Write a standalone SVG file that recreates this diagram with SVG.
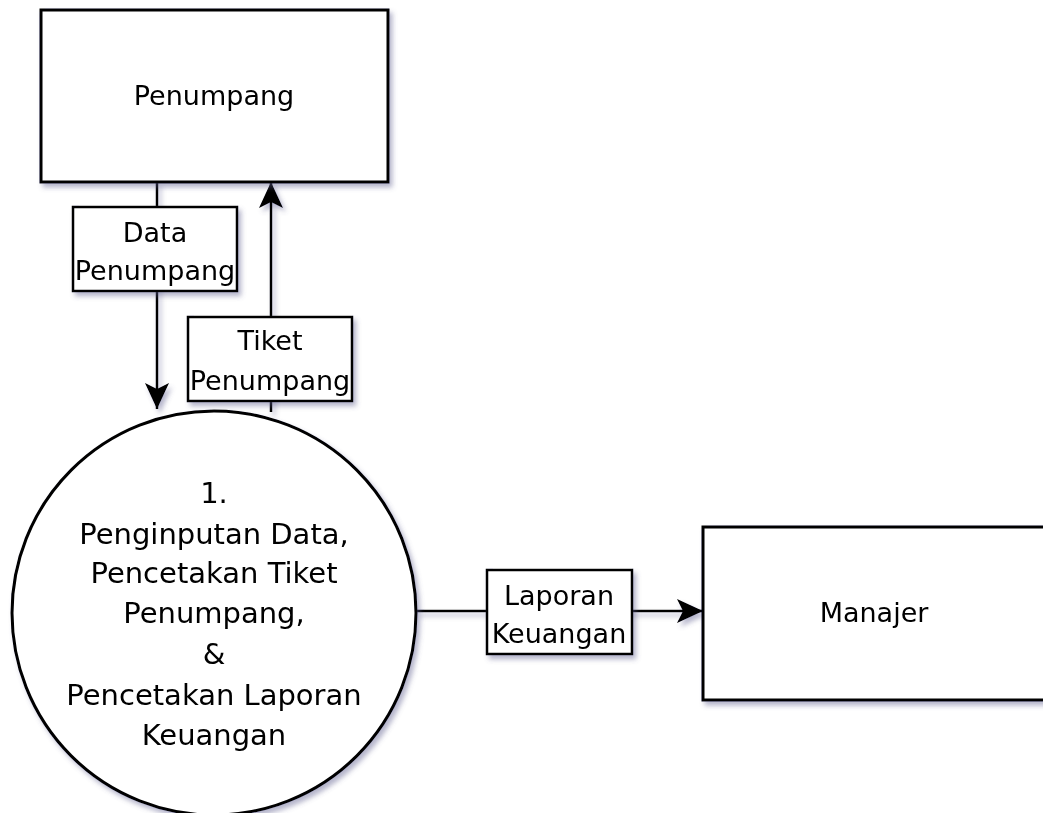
<svg xmlns="http://www.w3.org/2000/svg" width="1043" height="813" viewBox="0 0 1043 813">
  <style>
    .shape { fill: #ffffff; stroke: #000000; stroke-width: 3; }
    .label { fill: #ffffff; stroke: #000000; stroke-width: 2.5; }
    .flow { fill: none; stroke: #000000; stroke-width: 2.5; }
    text { font-family: "DejaVu Sans", "Liberation Sans", sans-serif; font-size: 27px; fill: #000000; text-anchor: middle; }
    .big { font-size: 29px; }
  </style>
  <defs>
    <filter id="shadow" x="-10%" y="-10%" width="130%" height="130%">
      <feDropShadow dx="3" dy="4" stdDeviation="2.5" flood-color="#5a5a8c" flood-opacity="0.45"/>
    </filter>
    <marker id="arrow" markerUnits="userSpaceOnUse" viewBox="0 0 26 24" refX="26" refY="12" markerWidth="26" markerHeight="24" orient="auto">
      <path d="M0,0 L26,12 L0,24 L6,12 Z" fill="#000000"/>
    </marker>
  </defs>

  <!-- data flows -->
  <g id="connectors" filter="url(#shadow)">
    <line class="flow" x1="157" y1="182" x2="157" y2="409" marker-end="url(#arrow)"/>
    <line class="flow" x1="271" y1="412" x2="271" y2="182" marker-end="url(#arrow)"/>
    <line class="flow" x1="417" y1="611" x2="703" y2="611" marker-end="url(#arrow)"/>
  </g>

  <!-- external entity: passenger -->
  <g id="penumpang" filter="url(#shadow)">
    <rect class="shape" x="41" y="10" width="347" height="172"/>
    <text x="214" y="105">Penumpang</text>
  </g>

  <!-- external entity: manager -->
  <g id="manajer" filter="url(#shadow)">
    <rect class="shape" x="703" y="527" width="345" height="173"/>
    <text x="874" y="622">Manajer</text>
  </g>

  <!-- process 1 -->
  <g id="proses-1" filter="url(#shadow)">
    <circle class="shape" cx="214" cy="613" r="202"/>
    <text class="big" x="214" y="503">1.</text>
    <text class="big" x="214" y="544">Penginputan Data,</text>
    <text class="big" x="214" y="583">Pencetakan Tiket</text>
    <text class="big" x="214" y="623">Penumpang,</text>
    <text class="big" x="214" y="664">&amp;</text>
    <text class="big" x="214" y="705">Pencetakan Laporan</text>
    <text class="big" x="214" y="745">Keuangan</text>
  </g>

  <!-- flow labels -->
  <g id="label-data-penumpang" filter="url(#shadow)">
    <rect class="label" x="73" y="207" width="164" height="84"/>
    <text x="155" y="242">Data</text>
    <text x="155" y="280">Penumpang</text>
  </g>

  <g id="label-tiket-penumpang" filter="url(#shadow)">
    <rect class="label" x="188" y="317" width="164" height="84"/>
    <text x="270" y="350">Tiket</text>
    <text x="270" y="390">Penumpang</text>
  </g>

  <g id="label-laporan-keuangan" filter="url(#shadow)">
    <rect class="label" x="487" y="570" width="145" height="84"/>
    <text x="559" y="605">Laporan</text>
    <text x="559" y="643">Keuangan</text>
  </g>
</svg>
